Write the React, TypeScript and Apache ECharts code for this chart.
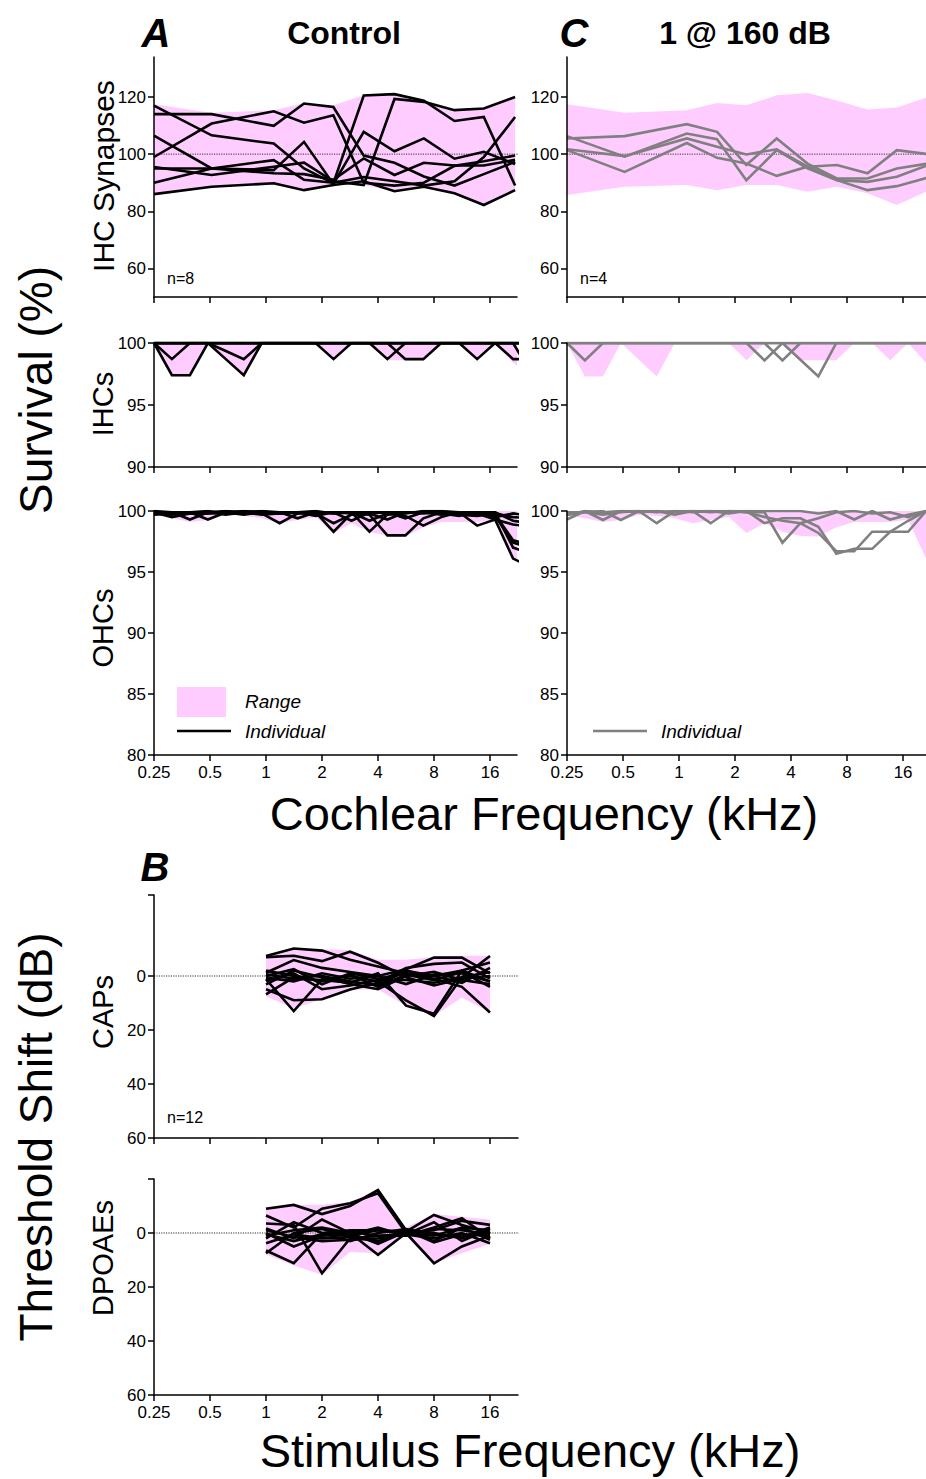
import React, { useEffect, useRef } from 'react';
import * as echarts from 'echarts';

const FONT = "'Liberation Sans', Arial, Helvetica, sans-serif";
const PINK = '#ffccff';
const BLACK = '#000000';
const GRAY = '#808080';

// ---------- frequencies (kHz) ----------
const HC_FREQ = [0.25, 0.312, 0.39, 0.487, 0.608, 0.759, 0.948, 1.184, 1.479, 1.846, 2.306, 2.879, 3.595, 4.489, 5.606, 7.0, 8.74, 10.91, 13.63, 17.02, 21.26, 26.5];
const SYN_FREQ = [0.25, 0.51, 1.1, 1.6, 2.3, 3.35, 4.9, 7.05, 10.3, 14.8, 21.8];
const STIM_FREQ = [1, 1.41, 2, 2.83, 4, 5.66, 8, 11.3, 16];
const X_TICKS = [0, 1, 2, 3, 4, 5, 6];
const X_TICK_LABELS = ['0.25', '0.5', '1', '2', '4', '8', '16'];

// ---------- IHC synapses (% survival) ----------
const SYN_RANGE_LO = [85.7, 88.6, 89.2, 87.4, 89.2, 89.2, 86.8, 88.6, 86.3, 82.2, 87.2];
const SYN_RANGE_HI = [117.5, 114.5, 115.4, 117.9, 117.1, 120.6, 121.4, 118.8, 115.6, 116.3, 120];
const SYN_A1 = [114, 114, 109.9, 117.7, 116.5, 99.5, 97, 92.2, 89, 93, 97.3];
const SYN_A2 = [99, 110.7, 115, 111, 113.6, 90, 89, 90, 95.9, 97.5, 99.5];
const SYN_A3 = [117, 106.6, 103.7, 95, 89.8, 120.5, 121, 118.7, 111.6, 113, 89];
const SYN_A4 = [106.5, 95, 94.4, 104.3, 89.5, 107.8, 101, 105.5, 98.4, 100.8, 96.5];
const SYN_A5 = [95.5, 92.7, 95.6, 97, 90.5, 89.2, 119.3, 118.3, 115.4, 116, 120];
const SYN_A6 = [95, 95, 93.3, 93, 91, 98.5, 92.7, 97, 96, 96, 98];
const SYN_A7 = [90, 95, 97.9, 91, 90, 92, 90.5, 89, 90.5, 99, 113];
const SYN_A8 = [86, 88.6, 89.8, 87.4, 89.2, 90.5, 87, 88.6, 86.3, 82.2, 87.4];
const SYN_C1 = [105.5, 106.3, 110.5, 107.8, 96.2, 105.5, 96.7, 91.5, 91.5, 95, 96.7];
const SYN_C2 = [106.3, 99.1, 107.2, 105.2, 90.9, 101.4, 95, 90.9, 90.3, 92.1, 96.2];
const SYN_C3 = [101.7, 99.3, 105.5, 102.6, 99.9, 101.7, 95.6, 96.2, 93.3, 101.4, 100];
const SYN_C4 = [101.4, 93.8, 103.9, 98.7, 96.7, 92.4, 95.6, 90.9, 87.4, 88.8, 91.8];

// ---------- IHCs (% survival) ----------
const IHC_RANGE_LO = [100, 97.3, 97.3, 100, 98.65, 97.3, 100, 100, 100, 100, 98.6, 100, 100, 98.6, 98.6, 98.6, 100, 100, 98.6, 100, 98.4, 97.3];
const IHC_RANGE_HI = [100, 100, 100, 100, 100, 100, 100, 100, 100, 100, 100, 100, 100, 100, 100, 100, 100, 100, 100, 100, 100, 100];
const IHC_A1 = [100, 98.7, 100, 100, 100, 100, 100, 100, 100, 100, 100, 100, 100, 100, 100, 100, 100, 100, 98.7, 100, 100, 100];
const IHC_A2 = [100, 97.4, 97.4, 100, 100, 100, 100, 100, 100, 100, 100, 100, 100, 100, 100, 100, 100, 100, 100, 100, 100, 100];
const IHC_A3 = [100, 100, 100, 100, 99.35, 98.7, 100, 100, 100, 100, 98.7, 100, 100, 100, 100, 100, 100, 100, 100, 100, 100, 100];
const IHC_A4 = [100, 100, 100, 100, 98.7, 97.4, 100, 100, 100, 100, 100, 100, 100, 100, 100, 100, 100, 100, 100, 100, 100, 100];
const IHC_A5 = [100, 100, 100, 100, 100, 100, 100, 100, 100, 100, 100, 100, 100, 98.7, 100, 100, 100, 100, 100, 100, 100, 100];
const IHC_A6 = [100, 100, 100, 100, 100, 100, 100, 100, 100, 100, 100, 100, 100, 100, 98.7, 98.7, 100, 100, 100, 100, 100, 100];
const IHC_A7 = [100, 100, 100, 100, 100, 100, 100, 100, 100, 100, 100, 100, 100, 100, 100, 100, 100, 100, 100, 100, 98.7, 98.7];
const IHC_A8 = [100, 100, 100, 100, 100, 100, 100, 100, 100, 100, 100, 100, 100, 100, 100, 100, 100, 100, 100, 100, 100, 97.6];
const IHC_C1 = [100, 98.6, 100, 100, 100, 100, 100, 100, 100, 100, 100, 100, 100, 100, 100, 100, 100, 100, 100, 100, 100, 100];
const IHC_C2 = [100, 100, 100, 100, 100, 100, 100, 100, 100, 100, 100, 98.6, 100, 100, 100, 100, 100, 100, 100, 100, 100, 100];
const IHC_C3 = [100, 100, 100, 100, 100, 100, 100, 100, 100, 100, 100, 100, 98.6, 100, 100, 100, 100, 100, 100, 100, 100, 100];
const IHC_C4 = [100, 100, 100, 100, 100, 100, 100, 100, 100, 100, 100, 100, 100, 98.65, 97.3, 100, 100, 100, 100, 100, 100, 100];

// ---------- OHCs (% survival) ----------
const OHC_RANGE_LO = [99.67, 99.4, 99.1, 99.26, 99.67, 99.6, 99.4, 99.0, 99.26, 99.5, 98.2, 99.0, 98.3, 97.95, 97.9, 98.66, 99.1, 99.1, 99.1, 99.3, 96.1, 95.4];
const OHC_RANGE_HI = [100, 100, 100, 100, 100, 100, 100, 100, 100, 100, 100, 100, 100, 100, 100, 100, 100, 100, 100, 100, 100, 100];
const OHC_A1 = [99.9, 99.9, 99.3, 99.9, 100, 99.9, 99.9, 99.8, 99.9, 100, 99.8, 99.9, 98.3, 99.7, 99.8, 100, 100, 99.9, 99.8, 99.6, 97.4, 97.0];
const OHC_A2 = [99.8, 99.7, 99.9, 99.3, 99.9, 100, 99.9, 99.9, 99.8, 99.9, 98.3, 99.8, 99.9, 99.9, 99.9, 99.9, 99.8, 99.9, 98.8, 99.3, 96.1, 95.4];
const OHC_A3 = [100, 99.9, 99.8, 99.9, 99.9, 99.8, 99.8, 99.0, 99.8, 99.9, 99.9, 99.8, 99.7, 98.0, 98.0, 99.4, 99.9, 99.8, 99.9, 99.7, 97.6, 97.2];
const OHC_A4 = [99.7, 99.8, 99.9, 100, 99.8, 99.9, 100, 99.9, 99.9, 99.8, 99.9, 99.9, 99.9, 99.9, 99.6, 98.8, 99.5, 99.9, 99.8, 99.3, 98.9, 98.7];
const OHC_A5 = [99.9, 99.5, 99.8, 99.8, 99.9, 99.9, 99.7, 99.8, 99.9, 99.8, 99.0, 99.7, 99.8, 99.3, 99.9, 99.8, 99.9, 99.7, 99.6, 99.8, 99.5, 99.4];
const OHC_A6 = [99.8, 99.9, 99.9, 99.8, 99.9, 99.8, 99.9, 99.9, 99.4, 99.9, 99.8, 99.9, 99.2, 99.8, 99.9, 99.9, 99.8, 99.6, 99.9, 99.9, 97.0, 96.5];
const OHC_A7 = [99.9, 99.8, 99.9, 99.9, 99.7, 99.9, 99.8, 99.9, 99.9, 99.8, 99.9, 99.2, 99.9, 99.9, 99.4, 99.9, 99.9, 99.9, 99.8, 99.9, 99.2, 99.0];
const OHC_A8 = [99.8, 99.9, 99.8, 99.9, 99.9, 99.7, 99.9, 99.8, 99.9, 99.6, 99.9, 99.9, 99.8, 99.9, 99.9, 99.9, 99.7, 99.9, 99.9, 99.5, 99.8, 99.6];
const OHC_C1 = [99.3, 100, 99.26, 100, 100, 99.9, 100, 99.9, 100, 100, 99.9, 99.9, 97.4, 99.0, 99.4, 99.9, 100, 99.8, 99.9, 99.5, 100, 100];
const OHC_C2 = [99.67, 99.9, 100, 99.26, 100, 99.0, 100, 100, 99.9, 100, 100, 99.0, 99.4, 99.4, 98.7, 96.5, 96.9, 96.9, 98.3, 98.3, 100, 100];
const OHC_C3 = [99.7, 100, 99.9, 100, 99.9, 100, 99.9, 100, 99.0, 100, 99.9, 99.5, 99.2, 99.0, 98.2, 96.7, 96.7, 98.3, 98.3, 99.2, 100, 100];
const OHC_C4 = [99.9, 99.9, 99.7, 99.9, 100, 100, 99.7, 100, 100, 99.8, 100, 100, 100, 100, 99.8, 100, 99.3, 100, 99.3, 99.7, 100, 100];

// ---------- CAP threshold shifts (dB) ----------
const CAP_RANGE_LO = [-7.5, -10.5, -10.0, -9.5, -6.0, -6.0, -7.0, -7.5, -7.5];
const CAP_RANGE_HI = [7.5, 12.0, 8.6, 5.0, 5.0, 11.0, 14.8, 8.0, 13.5];
const CAP_1 = [-7.4, -10.2, -9.4, -6.0, -3.5, -1.0, 0.0, -2.0, -5.0];
const CAP_2 = [-7.0, -7.5, -5.5, -9.0, -4.9, 0.5, 3.5, 1.0, 0.0];
const CAP_3 = [-1.2, -5.9, -3.0, -1.5, 0.0, -2.5, -6.8, -6.8, -1.0];
const CAP_4 = [0.0, -2.5, 3.1, -1.0, 1.0, -1.0, 1.0, 4.0, 13.5];
const CAP_5 = [1.2, 13.0, 1.2, 0.0, 2.0, 9.0, 14.8, 0.5, -7.4];
const CAP_6 = [-0.6, 1.0, 1.5, 2.5, -1.0, 11.0, 14.0, -2.0, 2.0];
const CAP_7 = [3.1, -2.0, 0.5, 3.0, 4.9, 0.0, -1.5, 1.5, 3.0];
const CAP_8 = [4.9, 9.0, 8.6, 5.0, 2.5, -3.0, -4.5, -5.0, 1.0];
const CAP_9 = [6.8, 0.5, 0.0, 2.0, 3.5, -2.0, 0.0, 2.5, -3.0];
const CAP_10 = [0.6, 2.0, -1.0, 1.0, 0.0, 3.0, -0.5, -1.0, 2.0];
const CAP_11 = [1.8, -1.0, 4.9, 3.5, 1.5, 1.5, 2.5, 0.5, -1.5];
const CAP_12 = [-2.0, 0.0, 2.0, -0.5, 4.0, -0.5, 1.5, -1.5, 4.0];

// ---------- DPOAE threshold shifts (dB) ----------
const DP_RANGE_LO = [-9.5, -10.5, -10.5, -11.5, -16.0, -2.0, -7.0, -6.0, -5.0];
const DP_RANGE_HI = [8.0, 12.0, 15.5, 7.0, 7.5, 1.0, 11.2, 7.5, 4.0];
const DP_1 = [-9.0, -10.4, -7.0, -10.0, -15.9, -1.0, 3.0, -2.0, -1.0];
const DP_2 = [-6.5, -2.0, -9.0, -11.0, -14.7, 0.0, -1.0, -4.5, -3.0];
const DP_3 = [6.5, 11.2, 0.0, -1.0, -1.0, -0.5, -6.7, -3.0, 0.0];
const DP_4 = [-3.5, -3.0, 14.9, 2.0, 1.0, 0.5, 2.0, 0.0, 3.8];
const DP_5 = [-1.7, 2.0, -5.0, 0.0, 8.1, 0.0, 11.2, 5.0, 1.0];
const DP_6 = [0.0, 5.0, 1.0, 0.5, -2.0, 1.0, -2.0, -5.5, 2.0];
const DP_7 = [2.0, -4.0, 0.0, 3.0, 0.0, -1.5, 0.5, 1.5, -2.0];
const DP_8 = [3.8, 0.5, 2.0, 1.5, 3.0, -1.0, 3.5, 0.5, 1.0];
const DP_9 = [7.5, 0.0, -1.5, 1.0, -1.0, 0.5, -4.0, 3.0, -1.5];
const DP_10 = [-1.0, 1.5, 3.0, 2.5, 2.0, 0.0, 1.0, -2.0, 2.5];
const DP_11 = [1.0, -1.0, -2.0, 0.0, 4.0, -0.5, 0.0, 2.0, -0.5];
const DP_12 = [0.5, 3.0, 0.5, -0.5, 1.0, 1.0, -1.5, -1.0, 0.5];

const SYN_A = [SYN_A1, SYN_A2, SYN_A3, SYN_A4, SYN_A5, SYN_A6, SYN_A7, SYN_A8];
const SYN_C = [SYN_C1, SYN_C2, SYN_C3, SYN_C4];
const IHC_A = [IHC_A1, IHC_A2, IHC_A3, IHC_A4, IHC_A5, IHC_A6, IHC_A7, IHC_A8];
const IHC_C = [IHC_C1, IHC_C2, IHC_C3, IHC_C4];
const OHC_A = [OHC_A1, OHC_A2, OHC_A3, OHC_A4, OHC_A5, OHC_A6, OHC_A7, OHC_A8];
const OHC_C = [OHC_C1, OHC_C2, OHC_C3, OHC_C4];
const CAPS = [CAP_1, CAP_2, CAP_3, CAP_4, CAP_5, CAP_6, CAP_7, CAP_8, CAP_9, CAP_10, CAP_11, CAP_12];
const DPS = [DP_1, DP_2, DP_3, DP_4, DP_5, DP_6, DP_7, DP_8, DP_9, DP_10, DP_11, DP_12];

// octaves above 0.25 kHz
const oct = (f: number) => Math.log2(f / 0.25);
const XMAX = 6.48;

function pts(fr: number[], v: number[]) {
  return fr.map((f, i) => [oct(f), v[i]]);
}

function lineSeries(fr: number[], v: number[], gi: number, color: string) {
  return {
    type: 'line',
    xAxisIndex: gi,
    yAxisIndex: gi,
    data: pts(fr, v),
    symbol: 'none',
    showSymbol: false,
    silent: true,
    clip: true,
    z: 4,
    lineStyle: { color, width: 2.6, join: 'miter' },
  };
}

// filled band between lo and hi, drawn through the axes' scales
function rangeSeries(fr: number[], lo: number[], hi: number[], gi: number) {
  const upper = pts(fr, hi);
  const lower = pts(fr, lo);
  return {
    type: 'custom',
    xAxisIndex: gi,
    yAxisIndex: gi,
    silent: true,
    z: 1,
    data: [[upper[0][0], lo[0]]],
    encode: { x: 0, y: 1 },
    renderItem: (params: any, api: any) => {
      const poly = upper.map((p) => api.coord(p)).concat(lower.slice().reverse().map((p) => api.coord(p)));
      const cs = params.coordSys;
      return {
        type: 'polygon',
        shape: { points: poly },
        style: { fill: PINK, stroke: 'none' },
        clipPath: { type: 'rect', shape: { x: cs.x, y: cs.y, width: cs.width, height: cs.height } },
      };
    },
  };
}

function refLine(gi: number, v: number) {
  return {
    type: 'line',
    xAxisIndex: gi,
    yAxisIndex: gi,
    data: [[0, v], [XMAX + 0.1, v]],
    symbol: 'none',
    showSymbol: false,
    silent: true,
    z: 2,
    lineStyle: { color: '#333', width: 1, type: [1.2, 1.2] },
  };
}

const GRIDS = [
  { left: 154, top: 57, width: 363, height: 240 },
  { left: 154, top: 343, width: 363, height: 124 },
  { left: 154, top: 511, width: 363, height: 244 },
  { left: 567, top: 57, width: 363, height: 240 },
  { left: 567, top: 343, width: 363, height: 124 },
  { left: 567, top: 511, width: 363, height: 244 },
  { left: 154, top: 895, width: 364, height: 243 },
  { left: 154, top: 1179, width: 364, height: 216 },
];

const Y_CFG = [
  { min: 50, max: 134, ticks: [60, 80, 100, 120], labels: [60, 80, 100, 120], inverse: false },
  { min: 90, max: 100, ticks: [90, 95, 100], labels: [90, 95, 100], inverse: false },
  { min: 80, max: 100, ticks: [80, 85, 90, 95, 100], labels: [80, 85, 90, 95, 100], inverse: false },
  { min: 50, max: 134, ticks: [60, 80, 100, 120], labels: [60, 80, 100, 120], inverse: false },
  { min: 90, max: 100, ticks: [90, 95, 100], labels: [90, 95, 100], inverse: false },
  { min: 80, max: 100, ticks: [80, 85, 90, 95, 100], labels: [80, 85, 90, 95, 100], inverse: false },
  { min: -30, max: 60, ticks: [-30, 0, 20, 40, 60], labels: [0, 20, 40, 60], inverse: true },
  { min: -20, max: 60, ticks: [-20, 0, 20, 40, 60], labels: [0, 20, 40, 60], inverse: true },
];

const X_LABELED = [false, false, true, false, false, true, false, true];

const axisLineStyle = { color: BLACK, width: 1.5 };

function buildOption() {
  const grid = GRIDS.map((g) => ({ ...g, containLabel: false, outerBoundsMode: 'none' }));
  const xAxis = GRIDS.map((g, i) => ({
    type: 'value',
    gridIndex: i,
    min: 0,
    max: i >= 6 ? 6.5 : XMAX,
    position: 'bottom',
    z: 5,
    axisLine: { show: true, onZero: false, lineStyle: axisLineStyle },
    axisTick: { show: true, inside: false, length: 6, customValues: X_TICKS, lineStyle: axisLineStyle },
    axisLabel: {
      show: X_LABELED[i],
      customValues: X_TICKS,
      formatter: (v: number) => X_TICK_LABELS[Math.round(v)] ?? '',
      fontSize: 17,
      fontFamily: FONT,
      color: BLACK,
      margin: 9,
    },
    splitLine: { show: false },
  }));
  const yAxis = Y_CFG.map((c, i) => ({
    type: 'value',
    gridIndex: i,
    min: c.min,
    max: c.max,
    inverse: c.inverse,
    position: 'left',
    z: 5,
    axisLine: { show: true, onZero: false, lineStyle: axisLineStyle },
    axisTick: { show: true, inside: false, length: 6, customValues: c.ticks, lineStyle: axisLineStyle },
    axisLabel: {
      show: true,
      customValues: c.labels,
      fontSize: 17,
      fontFamily: FONT,
      color: BLACK,
      margin: 8,
    },
    splitLine: { show: false },
  }));

  const series: any[] = [];
  // Panel A
  series.push(rangeSeries(SYN_FREQ, SYN_RANGE_LO, SYN_RANGE_HI, 0));
  series.push(refLine(0, 100));
  SYN_A.forEach((v) => series.push(lineSeries(SYN_FREQ, v, 0, BLACK)));
  series.push(rangeSeries(HC_FREQ, IHC_RANGE_LO, IHC_RANGE_HI, 1));
  IHC_A.forEach((v) => series.push(lineSeries(HC_FREQ, v, 1, BLACK)));
  series.push(rangeSeries(HC_FREQ, OHC_RANGE_LO, OHC_RANGE_HI, 2));
  OHC_A.forEach((v) => series.push(lineSeries(HC_FREQ, v, 2, BLACK)));
  // Panel C
  series.push(rangeSeries(SYN_FREQ, SYN_RANGE_LO, SYN_RANGE_HI, 3));
  series.push(refLine(3, 100));
  SYN_C.forEach((v) => series.push(lineSeries(SYN_FREQ, v, 3, GRAY)));
  series.push(rangeSeries(HC_FREQ, IHC_RANGE_LO, IHC_RANGE_HI, 4));
  IHC_C.forEach((v) => series.push(lineSeries(HC_FREQ, v, 4, GRAY)));
  series.push(rangeSeries(HC_FREQ, OHC_RANGE_LO, OHC_RANGE_HI, 5));
  OHC_C.forEach((v) => series.push(lineSeries(HC_FREQ, v, 5, GRAY)));
  // Panel B
  series.push(rangeSeries(STIM_FREQ, CAP_RANGE_LO, CAP_RANGE_HI, 6));
  series.push(refLine(6, 0));
  CAPS.forEach((v) => series.push(lineSeries(STIM_FREQ, v, 6, BLACK)));
  series.push(rangeSeries(STIM_FREQ, DP_RANGE_LO, DP_RANGE_HI, 7));
  series.push(refLine(7, 0));
  DPS.forEach((v) => series.push(lineSeries(STIM_FREQ, v, 7, BLACK)));

  const txt = (
    text: string,
    x: number,
    y: number,
    size: number,
    opts: { weight?: string; style?: string; align?: string; rot?: number } = {}
  ) => ({
    type: 'text',
    x,
    y,
    rotation: opts.rot ?? 0,
    z: 100,
    silent: true,
    style: {
      text,
      fontSize: size,
      fontFamily: FONT,
      fontWeight: opts.weight ?? 'normal',
      fontStyle: opts.style ?? 'normal',
      fill: BLACK,
      textAlign: opts.align ?? 'center',
      textVerticalAlign: 'middle',
      align: opts.align ?? 'center',
      verticalAlign: 'middle',
    },
  });

  const R = Math.PI / 2;
  const graphic: any[] = [
    txt('A', 156, 33, 40, { weight: 'bold', style: 'italic' }),
    txt('Control', 344, 33, 32, { weight: 'bold' }),
    txt('C', 574, 33, 40, { weight: 'bold', style: 'italic' }),
    txt('1 @ 160 dB', 745, 33, 32, { weight: 'bold' }),
    txt('B', 155, 867, 40, { weight: 'bold', style: 'italic' }),
    txt('Survival (%)', 36, 390, 46, { rot: R }),
    txt('Threshold Shift (dB)', 36, 1137, 46, { rot: R }),
    txt('IHC Synapses', 103, 176, 30, { rot: R }),
    txt('IHCs', 103, 404, 29, { rot: R }),
    txt('OHCs', 103, 628, 29, { rot: R }),
    txt('CAPs', 103, 1012, 29, { rot: R }),
    txt('DPOAEs', 103, 1258, 29, { rot: R }),
    txt('Cochlear Frequency (kHz)', 544, 813, 47),
    txt('Stimulus Frequency (kHz)', 530, 1450, 47),
    txt('n=8', 167, 278, 16, { align: 'left' }),
    txt('n=4', 580, 278, 16, { align: 'left' }),
    txt('n=12', 167, 1117, 16, { align: 'left' }),
    {
      type: 'rect',
      shape: { x: 177, y: 687, width: 49, height: 30 },
      style: { fill: PINK },
      z: 100,
      silent: true,
    },
    txt('Range', 245, 701, 19, { style: 'italic', align: 'left' }),
    {
      type: 'line',
      shape: { x1: 177, y1: 731, x2: 231, y2: 731 },
      style: { stroke: BLACK, lineWidth: 2.6 },
      z: 100,
      silent: true,
    },
    txt('Individual', 245, 731, 19, { style: 'italic', align: 'left' }),
    {
      type: 'line',
      shape: { x1: 593, y1: 731, x2: 647, y2: 731 },
      style: { stroke: GRAY, lineWidth: 2.6 },
      z: 100,
      silent: true,
    },
    txt('Individual', 661, 731, 19, { style: 'italic', align: 'left' }),
  ];

  return {
    animation: false,
    backgroundColor: '#ffffff',
    grid,
    xAxis,
    yAxis,
    series,
    graphic,
  };
}

export default function App() {
  const ref = useRef<HTMLDivElement>(null);
  useEffect(() => {
    if (!ref.current) return;
    const chart = echarts.init(ref.current, null, { renderer: 'svg' });
    chart.setOption(buildOption() as any);
    return () => chart.dispose();
  }, []);
  return (
    <div
      ref={ref}
      style={{ position: 'absolute', left: 0, top: 0, width: 926, height: 1479, background: '#fff' }}
    />
  );
}
